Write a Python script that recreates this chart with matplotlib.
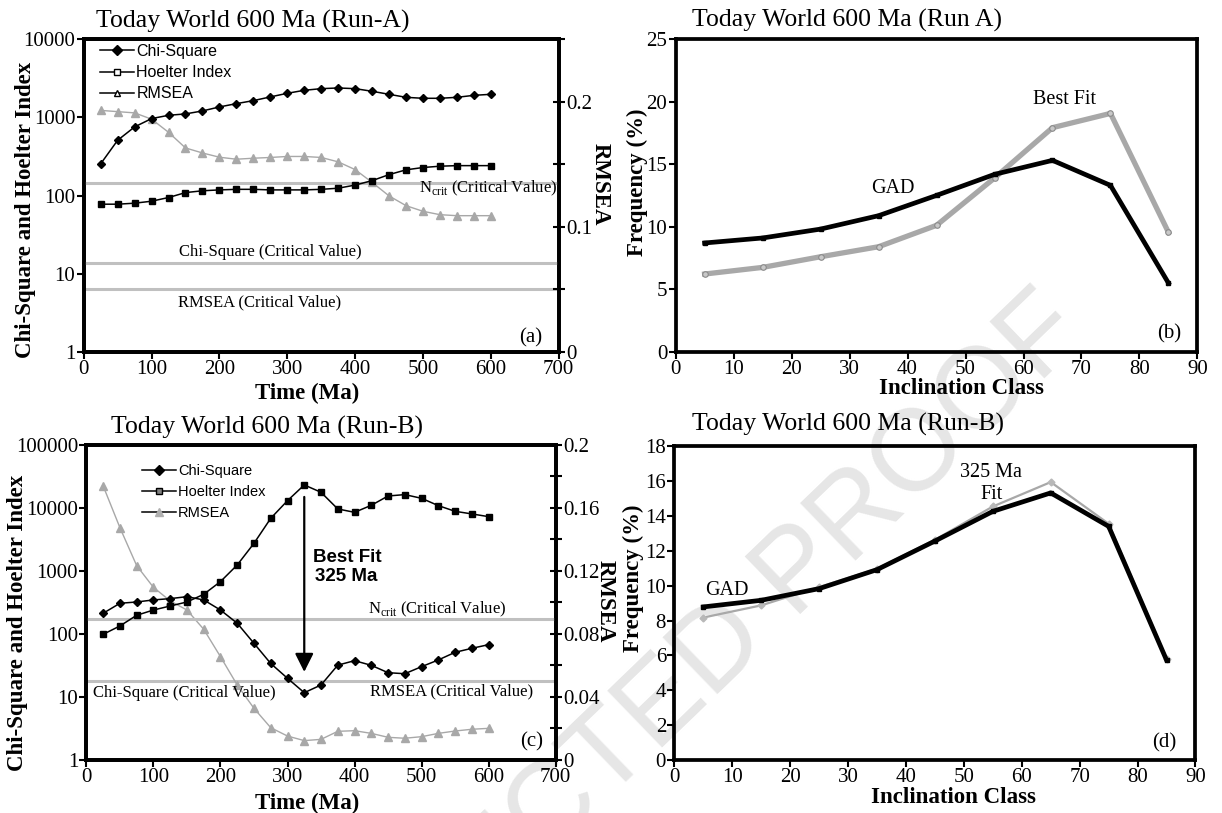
import matplotlib
matplotlib.use("Agg")
import matplotlib.pyplot as plt
from matplotlib.lines import Line2D

SERIF = "Liberation Serif"
SANS = "Liberation Sans"

plt.rcParams["font.family"] = SERIF
plt.rcParams["mathtext.fontset"] = "custom"
plt.rcParams["mathtext.rm"] = SERIF

# ---- data ----
TIME_MA = [25, 50, 75, 100, 125, 150, 175, 200, 225, 250, 275, 300,
           325, 350, 375, 400, 425, 450, 475, 500, 525, 550, 575, 600]

RUN_A_CHI = [254, 508, 753, 962, 1060, 1104, 1205, 1355, 1494, 1632, 1820, 2025,
             2212, 2322, 2368, 2322, 2148, 1966, 1799, 1748, 1748, 1799, 1907, 1966]
RUN_A_HOELTER = [77.5, 77.5, 79.8, 84.6, 94.3, 109, 115, 118, 120, 120, 118, 118,
                 118, 120, 124, 136, 155, 185, 213, 228, 237, 241, 241, 241]
RUN_A_RMSEA = [0.193, 0.192, 0.191, 0.186, 0.1755, 0.163, 0.159, 0.1556, 0.154, 0.1548,
               0.1554, 0.1562, 0.1562, 0.1554, 0.1519, 0.1457, 0.1355, 0.1247, 0.1169,
               0.1124, 0.1097, 0.1089, 0.1089, 0.1089]

RUN_B_CHI = [213, 307, 322, 347, 364, 391, 347, 240, 148, 71, 34, 19.8,
             11.7, 15.5, 32, 37.7, 31.8, 24.3, 23.4, 30.3, 38.7, 51.2, 59.2, 67.7]
RUN_B_HOELTER = [98.8, 134, 198, 240, 278, 322, 426, 678, 1245, 2748, 6850, 13060,
                 23200, 17730, 9640, 8530, 11020, 15490, 16290, 14230, 10890, 8850, 8040, 7280]
RUN_B_RMSEA = [0.174, 0.1475, 0.1234, 0.1096, 0.101, 0.0952, 0.083, 0.0656, 0.0476, 0.0328,
               0.0205, 0.0152, 0.0123, 0.0131, 0.0182, 0.0186, 0.0169, 0.0144, 0.0138,
               0.0148, 0.0169, 0.0184, 0.0195, 0.0201]

N_CRIT_A = 145
CHI_CRIT_A = 13.7
N_CRIT_B = 173
RMSEA_CRIT = 0.05
BEST_FIT_MA = 325

INCLINATION = [5, 15, 25, 35, 45, 55, 65, 75, 85]
RUN_A_GAD = [8.71, 9.11, 9.82, 10.89, 12.51, 14.19, 15.31, 13.31, 5.51]
RUN_A_BEST = [6.23, 6.76, 7.61, 8.41, 10.12, 13.9, 17.92, 19.06, 9.56]
RUN_B_GAD = [8.78, 9.16, 9.83, 10.92, 12.56, 14.26, 15.32, 13.4, 5.73]
RUN_B_FIT = [8.17, 8.87, 9.92, 10.97, 12.63, 14.54, 15.94, 13.55, 5.82]

TIME_TICKS = [0, 100, 200, 300, 400, 500, 600, 700]
CLASS_TICKS = [0, 10, 20, 30, 40, 50, 60, 70, 80, 90]

GREY = "#a8a8a8"
LINE_GREY = "#c0c0c0"
TICK_SIZE = 15
XLABEL_SIZE = 16.5
YLABEL_SIZE = 16.5
NOTE_SIZE = 12
TITLE_SIZE = 18.5
SPINE_W = 2.7


def style_frame(ax):
    for spine in ax.spines.values():
        spine.set_linewidth(SPINE_W)
    ax.tick_params(axis="both", direction="out", length=5, width=1.5,
                   labelsize=TICK_SIZE, pad=1)
    ax.minorticks_off()


def log_axis(ax, ticks):
    ax.set_yscale("log")
    ax.set_ylim(ticks[0], ticks[-1])
    ax.set_yticks(ticks)
    ax.set_yticklabels([str(t) for t in ticks])
    ax.minorticks_off()


def right_axis(ax, top, step, label_every):
    ax2 = ax.twinx()
    ax2.set_ylim(0, top)
    n = int(round(top / step))
    ticks = [i * step for i in range(n + 1)]
    labels = [f"{t:.2f}".rstrip("0").rstrip(".") if i % label_every == 0 else ""
              for i, t in enumerate(ticks)]
    ax2.set_yticks(ticks)
    ax2.set_yticklabels(labels)
    ax2.tick_params(axis="y", direction="inout", length=9, width=1.5,
                    labelsize=TICK_SIZE, pad=1)
    for spine in ax2.spines.values():
        spine.set_linewidth(SPINE_W)
    return ax2


fig = plt.figure(figsize=(12.22, 8.13), dpi=100)

# watermark behind everything
fig.text(0.874, 0.613, "UNCORRECTED PROOF", fontsize=83, family=SANS,
         color="#e6e6e6", rotation=44, rotation_mode="anchor",
         ha="right", va="center", zorder=-1)

ax_a = fig.add_axes([0.0685, 0.567, 0.3887, 0.385])
ax_b = fig.add_axes([0.5529, 0.567, 0.427, 0.385])
ax_c = fig.add_axes([0.0707, 0.0652, 0.384, 0.3875])
ax_d = fig.add_axes([0.5519, 0.0652, 0.4264, 0.386])
for ax in (ax_a, ax_b, ax_c, ax_d):
    ax.set_facecolor("none")

# ---------------- panel (a) ----------------
ax = ax_a
style_frame(ax)
log_axis(ax, [1, 10, 100, 1000, 10000])
ax.set_xlim(0, 700)
ax.set_xticks(TIME_TICKS)
ax.axhline(N_CRIT_A, color=LINE_GREY, lw=2.2, zorder=1)
ax.axhline(CHI_CRIT_A, color=LINE_GREY, lw=2.2, zorder=1)
ax.plot(TIME_MA, RUN_A_CHI, color="black", lw=1.1, marker="D", ms=4.5, zorder=4)
ax.plot(TIME_MA, RUN_A_HOELTER, color="black", lw=1.1, marker="s", ms=4.5, zorder=4)
ax2 = right_axis(ax, 0.25, 0.05, 2)
ax2.axhline(RMSEA_CRIT, color=LINE_GREY, lw=2.2, zorder=1)
ax2.plot(TIME_MA, RUN_A_RMSEA, color=GREY, lw=1.0, marker="^", ms=5.5, zorder=3)
ax.set_zorder(ax2.get_zorder() + 1)

ax.text(0.851, 0.522, r"N$_{\mathrm{crit}}$ (Critical Value)", transform=ax.transAxes,
        ha="center", va="center", fontsize=NOTE_SIZE)
ax.text(0.392, 0.321, "Chi-Square (Critical Value)", transform=ax.transAxes,
        ha="center", va="center", fontsize=NOTE_SIZE)
ax.text(0.37, 0.157, "RMSEA (Critical Value)", transform=ax.transAxes,
        ha="center", va="center", fontsize=NOTE_SIZE)
ax.text(0.941, 0.045, "(a)", transform=ax.transAxes, ha="center", va="center",
        fontsize=15)
ax.text(0.025, 1.055, "Today World 600 Ma (Run-A)", transform=ax.transAxes,
        ha="left", va="center", fontsize=TITLE_SIZE)

handles_a = [
    Line2D([], [], color="black", lw=1.1, marker="D", ms=5, mfc="black"),
    Line2D([], [], color="black", lw=1.1, marker="s", ms=4.5, mfc="white"),
    Line2D([], [], color="black", lw=1.1, marker="^", ms=5, mfc="white"),
]
ax.legend(handles_a, ["Chi-Square", "Hoelter Index", "RMSEA"], loc="upper left",
          bbox_to_anchor=(0.035, 0.985), frameon=False, borderpad=0,
          borderaxespad=0, handlelength=2.1, handletextpad=0.15,
          labelspacing=0.4, prop={"family": SANS, "size": 11.5})

ax.set_xlabel("Time (Ma)", fontweight="bold", fontsize=XLABEL_SIZE, va="center")
ax.xaxis.set_label_coords(0.47, -0.131)
ax.set_ylabel("Chi-Square and Hoelter Index", fontweight="bold",
              fontsize=YLABEL_SIZE, va="center")
ax.yaxis.set_label_coords(-0.123, 0.454)
ax2.set_ylabel("RMSEA", fontweight="bold", fontsize=YLABEL_SIZE, rotation=270,
               va="center", ha="center")
ax2.yaxis.set_label_coords(1.088, 0.537)

# ---------------- panel (b) ----------------
ax = ax_b
style_frame(ax)
ax.set_xlim(0, 90)
ax.set_ylim(0, 25)
ax.set_xticks(CLASS_TICKS)
ax.set_yticks([0, 5, 10, 15, 20, 25])
ax.plot(INCLINATION, RUN_A_BEST, color=GREY, lw=3.8, marker="o", ms=4,
        mfc="#c8c8c8", mec="#8a8a8a", mew=0.8, zorder=3)
ax.plot(INCLINATION, RUN_A_GAD, color="black", lw=3.4, marker="s", ms=3,
        zorder=4)
ax.text(37.5, 13.1, "GAD", ha="center", va="center", fontsize=14.5)
ax.text(67.1, 20.15, "Best Fit", ha="center", va="center", fontsize=14.5)
ax.text(0.945, 0.057, "(b)", transform=ax.transAxes, ha="center", va="center",
        fontsize=15)
ax.text(0.031, 1.06, "Today World 600 Ma (Run A)", transform=ax.transAxes,
        ha="left", va="center", fontsize=TITLE_SIZE)
ax.set_xlabel("Inclination Class", fontweight="bold", fontsize=XLABEL_SIZE,
              va="center")
ax.xaxis.set_label_coords(0.547, -0.115)
ax.set_ylabel("Frequency (%)", fontweight="bold", fontsize=YLABEL_SIZE, va="center")
ax.yaxis.set_label_coords(-0.074, 0.543)

# ---------------- panel (c) ----------------
ax = ax_c
style_frame(ax)
log_axis(ax, [1, 10, 100, 1000, 10000, 100000])
ax.set_xlim(0, 700)
ax.set_xticks(TIME_TICKS)
ax.axhline(N_CRIT_B, color=LINE_GREY, lw=2.2, zorder=1)
ax.plot(TIME_MA, RUN_B_CHI, color="black", lw=1.1, marker="D", ms=4.5, zorder=4)
ax.plot(TIME_MA, RUN_B_HOELTER, color="black", lw=1.1, marker="s", ms=4.5, zorder=4)
ax2 = right_axis(ax, 0.2, 0.02, 2)
ax2.axhline(RMSEA_CRIT, color=LINE_GREY, lw=2.2, zorder=1)
ax2.plot(TIME_MA, RUN_B_RMSEA, color=GREY, lw=1.0, marker="^", ms=5.5, zorder=3)
ax.set_zorder(ax2.get_zorder() + 1)

ax.annotate("", xy=(BEST_FIT_MA, 25), xytext=(BEST_FIT_MA, 14960),
            arrowprops=dict(arrowstyle="-|>", color="black", lw=1.6,
                            mutation_scale=28, shrinkA=0, shrinkB=0), zorder=5)
ax.text(338, 0.644, "Best Fit", transform=ax.get_xaxis_transform(), ha="left",
        va="center", fontsize=13.5, fontweight="bold", family=SANS)
ax.text(341, 0.581, "325 Ma", transform=ax.get_xaxis_transform(), ha="left",
        va="center", fontsize=13.5, fontweight="bold", family=SANS)
ax.text(0.747, 0.479, r"N$_{\mathrm{crit}}$ (Critical Value)", transform=ax.transAxes,
        ha="center", va="center", fontsize=NOTE_SIZE)
ax.text(0.209, 0.213, "Chi-Square (Critical Value)", transform=ax.transAxes,
        ha="center", va="center", fontsize=NOTE_SIZE)
ax.text(0.779, 0.219, "RMSEA (Critical Value)", transform=ax.transAxes,
        ha="center", va="center", fontsize=NOTE_SIZE)
ax.text(0.948, 0.057, "(c)", transform=ax.transAxes, ha="center", va="center",
        fontsize=15)
ax.text(0.052, 1.054, "Today World 600 Ma (Run-B)", transform=ax.transAxes,
        ha="left", va="center", fontsize=TITLE_SIZE)

handles_c = [
    Line2D([], [], color="black", lw=1.1, marker="D", ms=5, mfc="black"),
    Line2D([], [], color="black", lw=1.1, marker="s", ms=5, mfc="#808080"),
    Line2D([], [], color="black", lw=1.1, marker="^", ms=6, mfc="#b0b0b0",
           mec="#b0b0b0"),
]
ax.legend(handles_c, ["Chi-Square", "Hoelter Index", "RMSEA"], loc="upper left",
          bbox_to_anchor=(0.119, 0.94), frameon=False, borderpad=0,
          borderaxespad=0, handlelength=2.3, handletextpad=0.15,
          labelspacing=0.5, prop={"family": SANS, "size": 10.5})

ax.set_xlabel("Time (Ma)", fontweight="bold", fontsize=XLABEL_SIZE, va="center")
ax.xaxis.set_label_coords(0.47, -0.137)
ax.set_ylabel("Chi-Square and Hoelter Index", fontweight="bold",
              fontsize=YLABEL_SIZE, va="center")
ax.yaxis.set_label_coords(-0.147, 0.435)
ax2.set_ylabel("RMSEA", fontweight="bold", fontsize=YLABEL_SIZE, rotation=270,
               va="center", ha="center")
ax2.yaxis.set_label_coords(1.105, 0.505)

# ---------------- panel (d) ----------------
ax = ax_d
style_frame(ax)
ax.set_xlim(0, 90)
ax.set_ylim(0, 18)
ax.set_xticks(CLASS_TICKS)
ax.set_yticks([0, 2, 4, 6, 8, 10, 12, 14, 16, 18])
ax.plot(INCLINATION, RUN_B_FIT, color=GREY, lw=1.6, marker="D", ms=3.5,
        mfc="#b8b8b8", mec="#b8b8b8", zorder=3)
ax.plot(INCLINATION, RUN_B_GAD, color="black", lw=3.4, marker="s", ms=3,
        zorder=4)
ax.text(9.0, 9.73, "GAD", ha="center", va="center", fontsize=14.5)
ax.text(54.6, 16.5, "325 Ma", ha="center", va="center", fontsize=14.5)
ax.text(54.7, 15.2, "Fit", ha="center", va="center", fontsize=14.5)
ax.text(0.94, 0.055, "(d)", transform=ax.transAxes, ha="center", va="center",
        fontsize=15)
ax.text(0.034, 1.068, "Today World 600 Ma (Run-B)", transform=ax.transAxes,
        ha="left", va="center", fontsize=TITLE_SIZE)
ax.set_xlabel("Inclination Class", fontweight="bold", fontsize=XLABEL_SIZE,
              va="center")
ax.xaxis.set_label_coords(0.535, -0.118)
ax.set_ylabel("Frequency (%)", fontweight="bold", fontsize=YLABEL_SIZE, va="center")
ax.yaxis.set_label_coords(-0.079, 0.58)

fig.savefig("out.png", dpi=100, facecolor="white")
